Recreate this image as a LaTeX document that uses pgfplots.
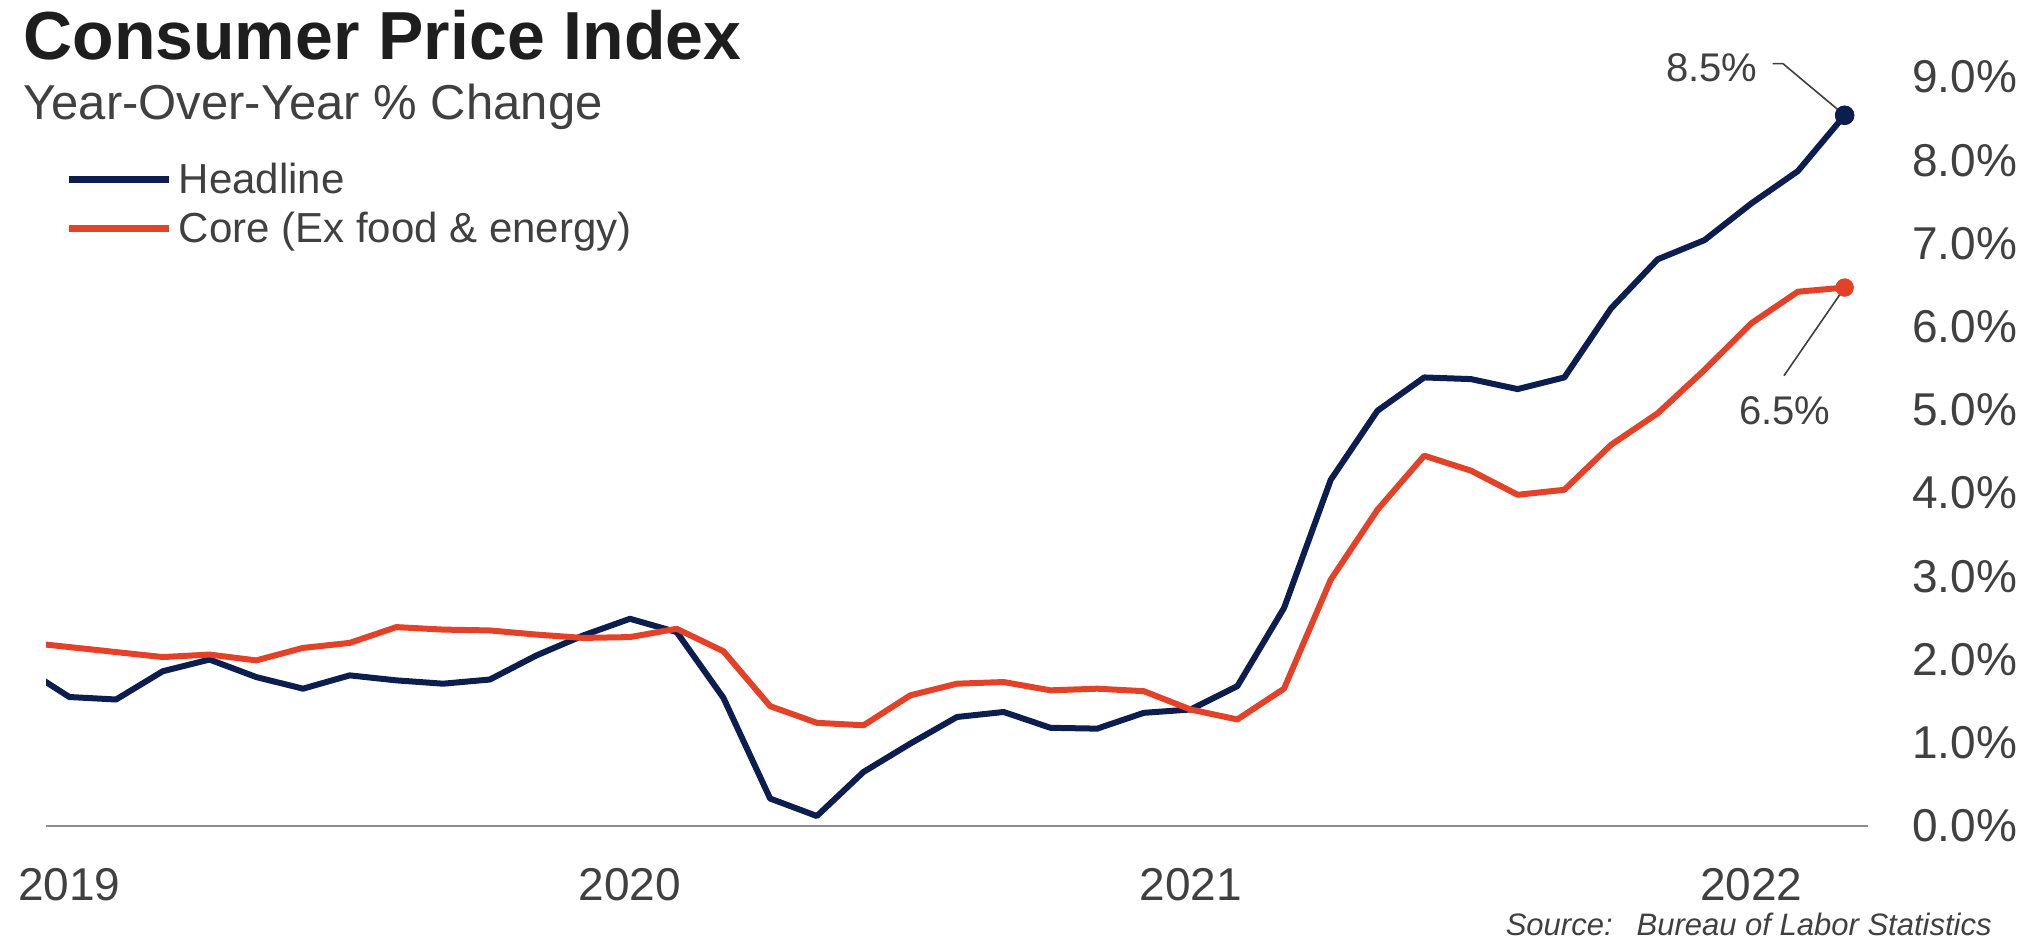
\documentclass[border=0pt]{standalone}
\usepackage{fontspec}
\setmainfont{Liberation Sans}
\usepackage{pgfplots}
\pgfplotsset{compat=1.18}
\usepackage{pgfplotstable}
\definecolor{navy}{RGB}{12,30,80}
\definecolor{cpired}{RGB}{228,66,40}
\definecolor{txt}{RGB}{64,64,64}
\definecolor{ttl}{RGB}{30,30,30}
\definecolor{axgray}{RGB}{140,140,140}

% t = months since Jan 2019 (Dec 2018 = -1)
\pgfplotstableread{
t headline core
-1 1.91 2.21
0 1.55 2.15
1 1.52 2.09
2 1.86 2.03
3 2.00 2.06
4 1.79 1.99
5 1.65 2.14
6 1.81 2.20
7 1.75 2.39
8 1.71 2.36
9 1.76 2.35
10 2.05 2.30
11 2.29 2.26
12 2.49 2.27
13 2.33 2.37
14 1.54 2.10
15 0.33 1.44
16 0.12 1.24
17 0.65 1.21
18 0.99 1.57
19 1.31 1.71
20 1.37 1.73
21 1.18 1.63
22 1.17 1.65
23 1.36 1.62
24 1.40 1.40
25 1.68 1.28
26 2.62 1.65
27 4.16 2.96
28 4.99 3.80
29 5.39 4.45
30 5.37 4.27
31 5.25 3.98
32 5.39 4.04
33 6.22 4.58
34 6.81 4.96
35 7.04 5.48
36 7.48 6.04
37 7.87 6.42
38 8.54 6.47
}\cpidata

\begin{document}
\begin{tikzpicture}[x=1pt,y=1pt]
\useasboundingbox (0,0) rectangle (1017.5,475);
\fill[white] (0,0) rectangle (1017.5,475);
\begin{axis}[
  at={(23pt,62pt)}, anchor=south west,
  scale only axis, width=911pt, height=374.5pt,
  xmin=-0.5, xmax=38.5, ymin=0, ymax=9,
  clip mode=individual,
  axis x line*=bottom, axis y line*=right,
  x axis line style={draw=axgray, line width=1.25pt, -},
  y axis line style={draw=none},
  major tick length=0pt, tick style={draw=none},
  xtick={0,12,24,36}, xticklabels={2019,2020,2021,2022},
  ytick={0,1,2,3,4,5,6,7,8,9},
  yticklabels={0.0\%,1.0\%,2.0\%,3.0\%,4.0\%,5.0\%,6.0\%,7.0\%,8.0\%,9.0\%},
  xticklabel style={anchor=base, inner sep=0pt, yshift=-37pt, text=txt, font=\fontsize{23}{23}\selectfont},
  yticklabel style={anchor=west, inner sep=0pt, xshift=22pt, text=txt, font=\fontsize{23}{23}\selectfont},
  legend style={at={(axis description cs:0.0110,0.885)}, anchor=north west,
    draw=none, fill=none, inner sep=0pt, outer sep=0pt,
    nodes={inner sep=0pt},
    font=\fontsize{21}{21}\selectfont, text=txt, row sep=7.5pt,
    /tikz/every odd column/.style={column sep=3pt}},
  legend cell align=left,
  legend image code/.code={\draw[#1, line width=3.4pt] (0pt,0pt) -- (50pt,0pt);},
]
\addplot[navy, line width=3pt, line join=round, mark=none] table[x=t,y=headline]{\cpidata};
\addlegendentry{Headline}
\addplot[cpired, line width=3pt, line join=round, mark=none] table[x=t,y=core]{\cpidata};
\addlegendentry{Core (Ex food \& energy)}
\draw[black!75, line width=0.8pt] (axis cs:36.46,9.16) -- (axis cs:36.68,9.16) -- (axis cs:38,8.54);
\draw[black!75, line width=0.8pt] (axis cs:36.70,5.41) -- (axis cs:38,6.47);
\addplot[only marks, mark=*, mark size=4.7pt, navy, forget plot] coordinates {(38,8.54)};
\addplot[only marks, mark=*, mark size=4.4pt, cpired, forget plot] coordinates {(38,6.47)};
\node[text=txt, inner sep=0pt, font=\fontsize{20}{20}\selectfont] at (axis cs:35.16,9.11) {8.5\%};
\node[text=txt, inner sep=0pt, font=\fontsize{20}{20}\selectfont] at (axis cs:36.72,4.99) {6.5\%};
\end{axis}
\node[anchor=base west, inner sep=0pt, text=ttl, font=\fontsize{34}{34}\selectfont\bfseries] at (11.5,445) {Consumer Price Index};
\node[anchor=base west, inner sep=0pt, text=txt, font=\fontsize{24.5}{24.5}\selectfont] at (11.5,415) {Year-Over-Year \% Change};
\node[anchor=base east, inner sep=0pt, text=txt, font=\fontsize{15.5}{15.5}\selectfont\itshape] at (996,7.5) {Source:\hspace{12pt}Bureau of Labor Statistics};
\end{tikzpicture}
\end{document}
